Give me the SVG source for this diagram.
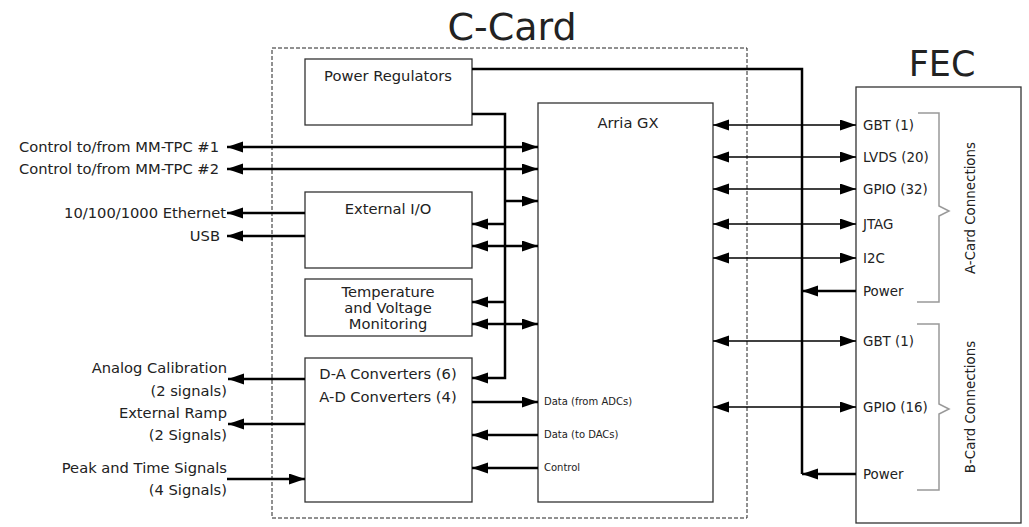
<svg xmlns="http://www.w3.org/2000/svg" width="1029" height="527" viewBox="0 0 1029 527">
<style>
text{font-family:"DejaVu Sans",Verdana,sans-serif;fill:#222}
.lbl{font-size:14.7px}
.rl{font-size:13.4px}
.sm{font-size:10px}
.box{fill:#fff;stroke:#333;stroke-width:1.3}
.thick{fill:none;stroke:#000;stroke-width:2.5}
.thin{fill:none;stroke:#000;stroke-width:1.5}
.brk{fill:none;stroke:#999;stroke-width:1.5}
</style>
<defs>
<marker id="ah" markerUnits="userSpaceOnUse" markerWidth="17" markerHeight="12" refX="16" refY="5.5" orient="auto-start-reverse"><path d="M0,0 L16,5.5 L0,11 z" fill="#000"/></marker>
</defs>
<rect width="1029" height="527" fill="#fff"/>

<g id="c-card">
<rect x="272" y="48" width="475" height="470" fill="none" stroke="#222" stroke-width="1" stroke-dasharray="4,2"/>
<text x="512" y="40" font-size="38" text-anchor="middle">C-Card</text>
</g>

<g id="fec">
<rect x="856" y="87" width="165" height="436" class="box"/>
<text x="942" y="76" font-size="35" text-anchor="middle">FEC</text>
<text class="rl" x="863" y="130">GBT (1)</text>
<text class="rl" x="863" y="162">LVDS (20)</text>
<text class="rl" x="863" y="194">GPIO (32)</text>
<text class="rl" x="863" y="229">JTAG</text>
<text class="rl" x="863" y="263">I2C</text>
<text class="rl" x="863" y="296">Power</text>
<text class="rl" x="863" y="346">GBT (1)</text>
<text class="rl" x="863" y="412">GPIO (16)</text>
<text class="rl" x="863" y="479">Power</text>
<path class="brk" d="M918,113 H939 V206 L949,211 L939,216 V302 H917"/>
<path class="brk" d="M917,324 H939 V404 L949,409 L939,414 V490 H917"/>
<text class="rl" transform="translate(975,208) rotate(-90)" text-anchor="middle" fill="#333">A-Card Connections</text>
<text class="rl" transform="translate(975,407) rotate(-90)" text-anchor="middle" fill="#333">B-Card Connections</text>
</g>

<g id="power-regulators">
<rect x="305" y="59" width="167" height="66" class="box"/>
<text class="lbl" x="388" y="81" text-anchor="middle">Power Regulators</text>
</g>

<g id="external-io">
<rect x="305" y="192" width="167" height="76" class="box"/>
<text class="lbl" x="388" y="214" text-anchor="middle">External I/O</text>
</g>

<g id="temp-voltage">
<rect x="305" y="279" width="167" height="57" class="box"/>
<text class="lbl" x="388" y="297" text-anchor="middle">Temperature</text>
<text class="lbl" x="388" y="313" text-anchor="middle">and Voltage</text>
<text class="lbl" x="388" y="329" text-anchor="middle">Monitoring</text>
</g>

<g id="converters">
<rect x="305" y="358" width="167" height="144" class="box"/>
<text class="lbl" x="388" y="379" text-anchor="middle">D-A Converters (6)</text>
<text class="lbl" x="388" y="402" text-anchor="middle">A-D Converters (4)</text>
</g>

<g id="arria-gx">
<rect x="538" y="103" width="175" height="399" class="box"/>
<text class="lbl" x="628" y="128" text-anchor="middle">Arria GX</text>
<text class="sm" x="544" y="405">Data (from ADCs)</text>
<text class="sm" x="544" y="438">Data (to DACs)</text>
<text class="sm" x="544" y="471">Control</text>
</g>

<g id="external-labels">
<text class="lbl" x="219" y="152" text-anchor="end">Control to/from MM-TPC #1</text>
<text class="lbl" x="219" y="174" text-anchor="end">Control to/from MM-TPC #2</text>
<text class="lbl" x="226" y="218" text-anchor="end">10/100/1000 Ethernet</text>
<text class="lbl" x="220" y="241" text-anchor="end">USB</text>
<text class="lbl" x="227" y="373" text-anchor="end">Analog Calibration</text>
<text class="lbl" x="227" y="396" text-anchor="end">(2 signals)</text>
<text class="lbl" x="227" y="418" text-anchor="end">External Ramp</text>
<text class="lbl" x="227" y="440" text-anchor="end">(2 Signals)</text>
<text class="lbl" x="227" y="473" text-anchor="end">Peak and Time Signals</text>
<text class="lbl" x="227" y="495" text-anchor="end">(4 Signals)</text>
</g>

<g id="connectors">
<polyline class="thick" points="472,69 802,69 802,474"/>
<line class="thick" x1="856" y1="291" x2="802" y2="291" marker-end="url(#ah)"/>
<line class="thick" x1="856" y1="474" x2="802" y2="474" marker-end="url(#ah)"/>
<polyline class="thick" points="472,114 505,114 505,378 472,378" marker-end="url(#ah)"/>
<line class="thick" x1="505" y1="201" x2="538" y2="201" marker-end="url(#ah)"/>
<line class="thick" x1="505" y1="224" x2="472" y2="224" marker-end="url(#ah)"/>
<line class="thick" x1="472" y1="246" x2="538" y2="246" marker-start="url(#ah)" marker-end="url(#ah)"/>
<line class="thick" x1="505" y1="302" x2="472" y2="302" marker-end="url(#ah)"/>
<line class="thick" x1="472" y1="324" x2="538" y2="324" marker-start="url(#ah)" marker-end="url(#ah)"/>
<line class="thick" x1="227" y1="147" x2="538" y2="147" marker-start="url(#ah)" marker-end="url(#ah)"/>
<line class="thick" x1="227" y1="169" x2="538" y2="169" marker-start="url(#ah)" marker-end="url(#ah)"/>
<line class="thick" x1="305" y1="213" x2="227" y2="213" marker-end="url(#ah)"/>
<line class="thick" x1="305" y1="236" x2="227" y2="236" marker-end="url(#ah)"/>
<line class="thick" x1="305" y1="379" x2="228" y2="379" marker-end="url(#ah)"/>
<line class="thick" x1="305" y1="424" x2="228" y2="424" marker-end="url(#ah)"/>
<line class="thick" x1="227" y1="479" x2="305" y2="479" marker-end="url(#ah)"/>
<line class="thick" x1="472" y1="402" x2="538" y2="402" marker-end="url(#ah)"/>
<line class="thick" x1="538" y1="435" x2="472" y2="435" marker-end="url(#ah)"/>
<line class="thick" x1="538" y1="468" x2="472" y2="468" marker-end="url(#ah)"/>
<line class="thin" x1="713" y1="125" x2="856" y2="125" marker-start="url(#ah)" marker-end="url(#ah)"/>
<line class="thin" x1="713" y1="157" x2="856" y2="157" marker-start="url(#ah)" marker-end="url(#ah)"/>
<line class="thin" x1="713" y1="189" x2="856" y2="189" marker-start="url(#ah)" marker-end="url(#ah)"/>
<line class="thin" x1="713" y1="224" x2="856" y2="224" marker-start="url(#ah)" marker-end="url(#ah)"/>
<line class="thin" x1="713" y1="258" x2="856" y2="258" marker-start="url(#ah)" marker-end="url(#ah)"/>
<line class="thin" x1="713" y1="341" x2="856" y2="341" marker-start="url(#ah)" marker-end="url(#ah)"/>
<line class="thin" x1="713" y1="407" x2="856" y2="407" marker-start="url(#ah)" marker-end="url(#ah)"/>
</g>
</svg>
